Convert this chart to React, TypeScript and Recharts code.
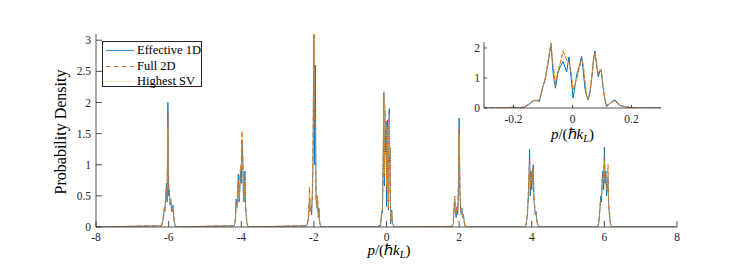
import { LineChart, Line, XAxis, YAxis, Label } from "recharts";

const FONT = "'Liberation Serif', 'Times New Roman', serif";
const AXIS_COLOR = "#262626";

// tick positions
const MAIN_X_TICKS = [-8, -6, -4, -2, 0, 2, 4, 6, 8];
const MAIN_Y_TICKS = [0, 0.5, 1, 1.5, 2, 2.5, 3];
const INSET_X_TICKS = [-0.2, 0, 0.2];
const INSET_Y_TICKS = [0, 1, 2];

const SERIES_NAMES = ["Effective 1D", "Full 2D", "Highest SV"];

// side peaks (the one at 0 comes from the inset data)
const PEAK_CENTERS = [-6, -4, -2, 2, 4, 6];
const PEAK_OFFSETS = [
  -0.2, -0.18, -0.16, -0.14, -0.12, -0.1, -0.08, -0.06, -0.04, -0.02, 0,
  0.02, 0.04, 0.06, 0.08, 0.1, 0.12, 0.14, 0.16, 0.18, 0.2,
];

const EFFECTIVE_1D_PEAKS = [
  [0.02, 0.05, 0.1, 0.15, 0.3, 0.25, 0.5, 0.7, 0.4, 2.0, 0.5, 0.6, 0.35, 0.45, 0.25, 0.3, 0.35, 0.15, 0.08, 0.03, 0],
  [0.02, 0.05, 0.15, 0.45, 0.3, 0.55, 0.85, 0.4, 0.6, 0.9, 0.7, 1.4, 1.1, 0.5, 0.4, 0.9, 0.3, 0.15, 0.05, 0.02, 0],
  [0.02, 0.05, 0.1, 0.2, 0.45, 0.25, 0.3, 0.2, 0.6, 1.2, 3.3, 1.0, 2.6, 0.5, 0.3, 0.45, 0.2, 0.3, 0.08, 0.02, 0],
  [0.01, 0.03, 0.06, 0.3, 0.45, 0.2, 0.15, 0.3, 0.2, 0.5, 1.75, 0.6, 0.3, 0.2, 0.3, 0.15, 0.2, 0.08, 0.03, 0.01, 0],
  [0, 0.01, 0.03, 0.1, 0.2, 0.4, 0.7, 1.25, 0.5, 0.9, 0.6, 0.8, 1.0, 0.45, 0.3, 0.2, 0.25, 0.1, 0.05, 0.02, 0],
  [0, 0.02, 0.05, 0.15, 0.3, 0.5, 0.4, 0.7, 0.9, 0.6, 1.28, 0.7, 0.9, 0.5, 0.6, 0.8, 0.3, 0.2, 0.08, 0.02, 0],
];
const FULL_2D_PEAKS = [
  [0.02, 0.06, 0.12, 0.2, 0.25, 0.35, 0.45, 0.65, 0.55, 1.85, 0.7, 0.5, 0.45, 0.4, 0.3, 0.25, 0.3, 0.2, 0.06, 0.02, 0],
  [0.02, 0.06, 0.12, 0.4, 0.35, 0.6, 0.75, 0.5, 0.7, 1.0, 0.9, 1.55, 1.2, 0.6, 0.5, 0.8, 0.35, 0.2, 0.06, 0.02, 0],
  [0.02, 0.06, 0.12, 0.3, 0.64, 0.3, 0.25, 0.35, 0.5, 1.5, 3.3, 1.77, 1.5, 0.4, 0.35, 0.5, 0.15, 0.25, 0.06, 0.02, 0],
  [0.01, 0.04, 0.08, 0.35, 0.5, 0.25, 0.2, 0.35, 0.25, 0.7, 1.6, 0.7, 0.35, 0.25, 0.25, 0.2, 0.15, 0.1, 0.03, 0.01, 0],
  [0, 0.01, 0.04, 0.12, 0.25, 0.45, 0.8, 1.1, 0.6, 0.85, 0.7, 0.9, 0.95, 0.5, 0.35, 0.25, 0.2, 0.12, 0.05, 0.02, 0],
  [0, 0.02, 0.06, 0.2, 0.35, 0.45, 0.5, 0.8, 0.85, 0.7, 1.1, 0.8, 0.85, 0.6, 0.7, 1.0, 0.35, 0.25, 0.1, 0.03, 0],
];
const HIGHEST_SV_PEAKS = [
  [0.02, 0.05, 0.1, 0.18, 0.25, 0.3, 0.5, 0.6, 0.6, 1.6, 0.8, 0.55, 0.4, 0.45, 0.3, 0.3, 0.25, 0.15, 0.05, 0.02, 0],
  [0.02, 0.05, 0.1, 0.35, 0.3, 0.5, 0.7, 0.45, 0.65, 1.0, 0.95, 1.55, 1.3, 0.7, 0.45, 0.75, 0.3, 0.15, 0.05, 0.02, 0],
  [0.02, 0.05, 0.1, 0.25, 0.55, 0.25, 0.3, 0.3, 0.45, 1.4, 3.2, 1.8, 1.6, 0.45, 0.3, 0.45, 0.2, 0.25, 0.05, 0.02, 0],
  [0.01, 0.03, 0.07, 0.3, 0.5, 0.2, 0.2, 0.3, 0.3, 0.65, 1.5, 0.75, 0.4, 0.2, 0.3, 0.15, 0.2, 0.08, 0.03, 0.01, 0],
  [0, 0.01, 0.03, 0.1, 0.2, 0.4, 0.75, 1.0, 0.65, 0.8, 0.75, 0.85, 0.9, 0.5, 0.3, 0.25, 0.2, 0.1, 0.04, 0.01, 0],
  [0, 0.02, 0.05, 0.15, 0.3, 0.4, 0.5, 0.75, 0.8, 0.75, 1.05, 0.85, 0.8, 0.6, 0.65, 0.95, 0.3, 0.2, 0.08, 0.02, 0],
];

// central peak, also shown in the inset
const INSET_P = [
  -0.3, -0.25, -0.22, -0.2, -0.18, -0.165, -0.15, -0.14, -0.13, -0.12, -0.112, -0.103, -0.092, -0.081,
  -0.073, -0.066, -0.058, -0.05, -0.041, -0.032, -0.025, -0.02, -0.012, -0.005, 0.002, 0.008, 0.014,
  0.022, 0.031, 0.037, 0.042, 0.048, 0.053, 0.059, 0.065, 0.071, 0.076, 0.082, 0.087, 0.092, 0.097,
  0.104, 0.11, 0.116, 0.122, 0.127, 0.135, 0.144, 0.152, 0.161, 0.175, 0.19, 0.205, 0.22, 0.25, 0.3,
];
const EFFECTIVE_1D_INSET = [
  0, 0, 0.01, 0.03, 0.01, 0.02, 0.1, 0.18, 0.25, 0.24, 0.22, 0.62, 0.98, 1.6, 2.16, 1.2, 0.66, 1.15,
  1.38, 1.55, 1.35, 1.2, 1.7, 1.05, 0.33, 0.7, 1.1, 1.35, 1.72, 1.2, 0.66, 0.4, 0.27, 0.5, 0.98, 1.6,
  1.9, 1.4, 1.04, 1.2, 1.26, 0.66, 0.25, 0.05, 0.1, 0.16, 0.22, 0.27, 0.18, 0.08, 0.05, 0.02, 0.01, 0, 0, 0,
];
const FULL_2D_INSET = [
  0, 0.005, 0.01, 0.02, 0.01, 0.03, 0.12, 0.2, 0.27, 0.25, 0.28, 0.6, 1.0, 1.65, 2.1, 1.4, 0.8, 1.2,
  1.5, 1.88, 1.75, 1.6, 1.55, 1.2, 0.6, 0.8, 0.95, 1.3, 1.65, 1.4, 0.9, 0.35, 0.3, 0.55, 1.0, 1.55,
  1.85, 1.45, 1.1, 1.25, 1.3, 0.7, 0.3, 0.1, 0.12, 0.18, 0.2, 0.25, 0.15, 0.1, 0.05, 0.03, 0.01, 0.005, 0, 0,
];
const HIGHEST_SV_INSET = [
  0, 0, 0.01, 0.02, 0.01, 0.03, 0.1, 0.2, 0.26, 0.25, 0.3, 0.58, 1.02, 1.7, 2.2, 1.45, 0.85, 1.25,
  1.55, 1.95, 1.8, 1.65, 1.5, 1.25, 0.65, 0.8, 0.95, 1.25, 1.6, 1.45, 0.95, 0.4, 0.32, 0.55, 1.0, 1.5,
  1.8, 1.5, 1.15, 1.3, 1.3, 0.75, 0.3, 0.12, 0.12, 0.17, 0.2, 0.24, 0.16, 0.1, 0.05, 0.03, 0.01, 0, 0, 0,
];

type Pt = { p: number; v: number };

const buildInset = (vals: number[]): Pt[] => INSET_P.map((p, i) => ({ p, v: vals[i] }));

const buildMain = (peaks: number[][], inset: number[]): Pt[] => {
  const pts: Pt[] = [{ p: -8, v: 0 }, { p: 8, v: 0 }];
  PEAK_CENTERS.forEach((c, i) => {
    PEAK_OFFSETS.forEach((o, k) => pts.push({ p: c + o, v: peaks[i][k] }));
  });
  buildInset(inset).forEach((d) => pts.push(d));
  return pts.sort((a, b) => a.p - b.p);
};

const SERIES = [
  { name: SERIES_NAMES[0], color: "#0072BD", dash: undefined, insetDash: undefined, main: buildMain(EFFECTIVE_1D_PEAKS, EFFECTIVE_1D_INSET), inset: buildInset(EFFECTIVE_1D_INSET) },
  { name: SERIES_NAMES[1], color: "#D95319", dash: "5 3", insetDash: "4 2", main: buildMain(FULL_2D_PEAKS, FULL_2D_INSET), inset: buildInset(FULL_2D_INSET) },
  { name: SERIES_NAMES[2], color: "#EDB120", dash: "1 1.5", insetDash: "1 1.5", main: buildMain(HIGHEST_SV_PEAKS, HIGHEST_SV_INSET), inset: buildInset(HIGHEST_SV_INSET) },
];

const axisLine = { stroke: AXIS_COLOR, strokeWidth: 0.8 };

const BottomTick = ({ x, y, payload }: any) => (
  <text x={x} y={y} dy="0.71em" textAnchor="middle" fontFamily={FONT} fontSize={11.5} fill={AXIS_COLOR}>
    {String(payload.value)}
  </text>
);

const LeftTick = ({ x, y, payload }: any) => (
  <text x={x} y={y} dy="0.35em" textAnchor="end" fontFamily={FONT} fontSize={11.5} fill={AXIS_COLOR}>
    {String(payload.value)}
  </text>
);

const MomentumLabel = ({ x, y }: { x: number; y: number }) => (
  <text x={x} y={y} textAnchor="middle" fontFamily={FONT} fontSize={15} fill="#000">
    <tspan fontStyle="italic">p</tspan>
    <tspan>/(ℏ</tspan>
    <tspan fontStyle="italic">k</tspan>
    <tspan fontStyle="italic" fontSize={10.5} dy={3}>L</tspan>
    <tspan dy={-3}>)</tspan>
  </text>
);

const LegendBox = () => (
  <div
    style={{
      position: "absolute",
      left: 102,
      top: 41,
      width: 100,
      height: 46,
      boxSizing: "border-box",
      border: `0.8px solid ${AXIS_COLOR}`,
      background: "#fff",
      fontFamily: FONT,
      fontSize: 12.5,
      color: "#000",
    }}
  >
    {SERIES.map((s, i) => (
      <div key={s.name} style={{ position: "absolute", left: 2, top: 1 + i * 15.6, height: 15, display: "flex", alignItems: "center" }}>
        <svg width={30} height={15}>
          <line x1={1} x2={29} y1={7.5} y2={7.5} stroke={s.color} strokeWidth={0.8} strokeDasharray={s.dash} />
        </svg>
        <span style={{ marginLeft: 2, whiteSpace: "nowrap" }}>{s.name}</span>
      </div>
    ))}
  </div>
);

export default function App() {
  return (
    <div style={{ position: "absolute", left: 0, top: 0, width: 747, height: 272, background: "#fff" }}>
      <LineChart width={747} height={272} margin={{ top: 34, right: 70, bottom: 0, left: 0 }}>
        <XAxis
          xAxisId="b"
          type="number"
          dataKey="p"
          domain={[-8, 8]}
          ticks={MAIN_X_TICKS}
          interval={0}
          allowDataOverflow
          height={45}
          tickSize={-6}
          tickMargin={12}
          tick={<BottomTick />}
          tickLine={axisLine}
          axisLine={axisLine}
        >
          <Label content={() => <MomentumLabel x={389} y={255} />} />
        </XAxis>
        <XAxis
          xAxisId="t"
          orientation="top"
          type="number"
          dataKey="p"
          domain={[-8, 8]}
          ticks={MAIN_X_TICKS}
          interval={0}
          allowDataOverflow
          height={0}
          tickSize={-6}
          tick={false}
          tickLine={axisLine}
          axisLine={axisLine}
        />
        <YAxis
          yAxisId="l"
          type="number"
          domain={[0, 3.1]}
          ticks={MAIN_Y_TICKS}
          interval={0}
          allowDataOverflow
          width={96}
          tickSize={-6}
          tickMargin={11}
          tick={<LeftTick />}
          tickLine={axisLine}
          axisLine={axisLine}
        >
          <Label
            content={() => (
              <text transform="translate(66,132) rotate(-90)" textAnchor="middle" fontFamily={FONT} fontSize={16} fill="#000">
                Probability Density
              </text>
            )}
          />
        </YAxis>
        <YAxis
          yAxisId="r"
          orientation="right"
          type="number"
          domain={[0, 3.1]}
          ticks={MAIN_Y_TICKS}
          interval={0}
          allowDataOverflow
          width={0}
          tickSize={-6}
          tick={false}
          tickLine={axisLine}
          axisLine={axisLine}
        />
        {SERIES.map((s) => (
          <Line
            key={s.name}
            xAxisId="b"
            yAxisId="l"
            data={s.main}
            dataKey="v"
            name={s.name}
            type="linear"
            stroke={s.color}
            strokeWidth={0.9}
            strokeDasharray={s.dash}
            dot={false}
            activeDot={false}
            isAnimationActive={false}
          />
        ))}
      </LineChart>

      <LegendBox />

      <div style={{ position: "absolute", left: 440, top: 36 }}>
        <LineChart width={230} height={112} margin={{ top: 6, right: 9, bottom: 0, left: 0 }}>
          <XAxis
            xAxisId="b"
            type="number"
            dataKey="p"
            domain={[-0.3, 0.3]}
            ticks={INSET_X_TICKS}
            interval={0}
            allowDataOverflow
            height={40}
            tickSize={-3}
            tickMargin={10}
            tick={<BottomTick />}
            tickLine={axisLine}
            axisLine={axisLine}
          >
            <Label content={() => <MomentumLabel x={132.5} y={103} />} />
          </XAxis>
          <XAxis
            xAxisId="t"
            orientation="top"
            type="number"
            dataKey="p"
            domain={[-0.3, 0.3]}
            ticks={INSET_X_TICKS}
            interval={0}
            allowDataOverflow
            height={0}
            tickSize={-3}
            tick={false}
            tickLine={axisLine}
            axisLine={axisLine}
          />
          <YAxis
            yAxisId="l"
            type="number"
            domain={[0, 2.2]}
            ticks={INSET_Y_TICKS}
            interval={0}
            allowDataOverflow
            width={44}
            tickSize={-3}
            tickMargin={7}
            tick={<LeftTick />}
            tickLine={axisLine}
            axisLine={axisLine}
          />
          <YAxis
            yAxisId="r"
            orientation="right"
            type="number"
            domain={[0, 2.2]}
            ticks={INSET_Y_TICKS}
            interval={0}
            allowDataOverflow
            width={0}
            tickSize={-3}
            tick={false}
            tickLine={axisLine}
            axisLine={axisLine}
          />
          {SERIES.map((s) => (
            <Line
              key={s.name}
              xAxisId="b"
              yAxisId="l"
              data={s.inset}
              dataKey="v"
              name={s.name}
              type="linear"
              stroke={s.color}
              strokeWidth={1}
              strokeDasharray={s.insetDash}
              dot={false}
              activeDot={false}
              isAnimationActive={false}
            />
          ))}
        </LineChart>
      </div>
    </div>
  );
}
